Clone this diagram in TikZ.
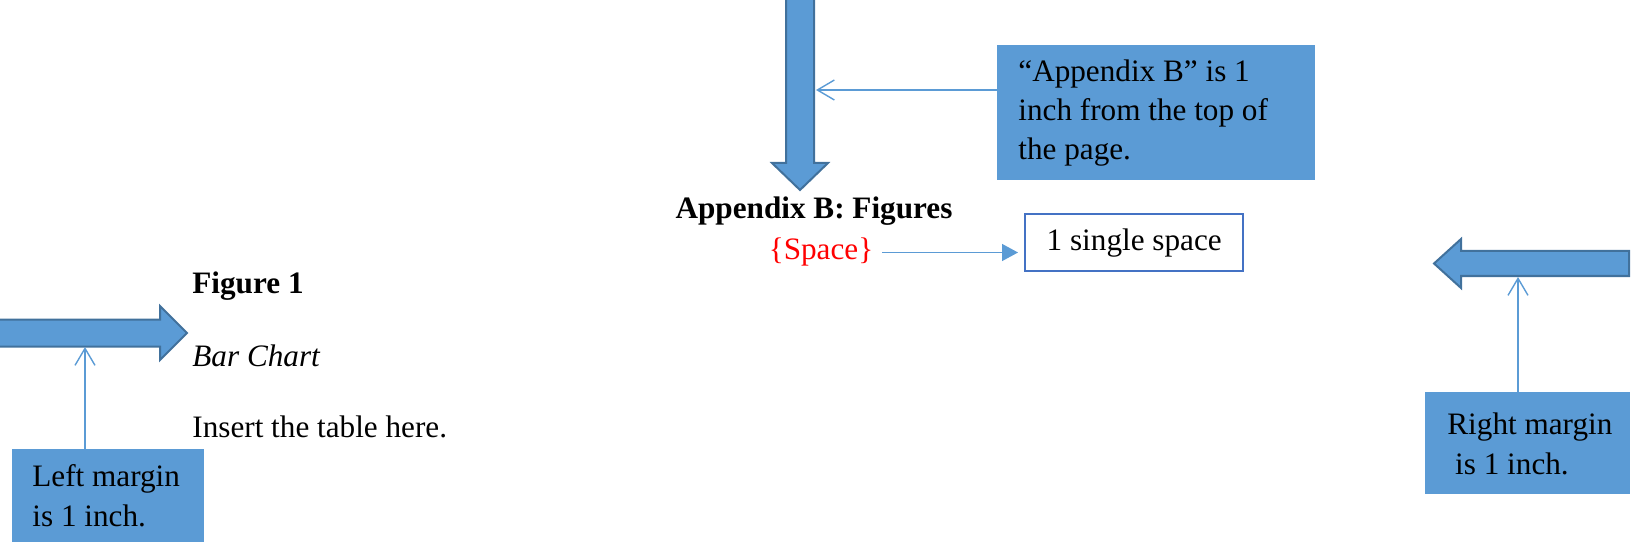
\documentclass[tikz,border=0pt]{standalone}
\usepackage{fontspec}
\setmainfont{Liberation Serif}
\usetikzlibrary{positioning}
\usetikzlibrary{arrows, arrows.meta}
\definecolor{blockblue}{HTML}{5B9BD5}
\definecolor{blockedge}{HTML}{41719C}
\definecolor{boxedge}{HTML}{4472C4}
\tikzset{myblock/.style={fill=blockblue, draw=blockedge, line width=1pt}}
\tikzset{mypointer/.style={draw=blockblue, line width=0.7pt, -{Straight Barb[length=8.5pt, width=10pt]}}}
\tikzset{myspacearrow/.style={draw=blockblue, line width=0.7pt, -{Triangle[length=8pt, width=8.5pt]}}}
\tikzset{schrift/.style={font=\fontsize{15.6}{18.5}\selectfont}}
\tikzset{mynote/.style={schrift, fill=blockblue, inner ysep=0pt, align=flush left, anchor=north west}}

\begin{document}
\begin{tikzpicture}[x=0.5pt, y=-0.5pt]
		\useasboundingbox (0,0) rectangle (1632,545);
		
		% UEBERSCHRIFT
		\draw[myblock] (786,-5) -- (786,163) -- (772,163) -- (800,190) -- (828,163) -- (814,163) -- (814,-5) -- cycle;
		\coordinate (downR) at (816,90);
		\node[mynote, font=\fontsize{15.6}{19.5}\selectfont, inner xsep=10.5pt, text width=138pt, minimum width=159pt, minimum height=67.5pt] (topnote) at (997,45) {\mbox{“Appendix B” is 1}\\\mbox{inch from the top of}\\the page.};
		\draw[mypointer] (topnote.west |- downR) -- (downR);
		
		\node[schrift, anchor=base] (title) at (814,219) {\textbf{Appendix B: Figures}};
		\node[schrift, anchor=base, text=red] (spc) at (821,260) {\{Space\}};
		\node[schrift, draw=boxedge, line width=1.2pt, minimum width=109pt, minimum height=28.5pt, anchor=north west] (single) at (1024,213) {1 single space};
		\draw[myspacearrow, shorten <=1pt, shorten >=3pt] (spc.east) -- (spc.east -| single.west);
		
		% RECHTER RAND
		\draw[myblock] (1629,251) -- (1461,251) -- (1461,239) -- (1434,263.5) -- (1461,288) -- (1461,276) -- (1629,276) -- cycle;
		\coordinate (rightR) at (1518,277);
		\node[mynote, font=\fontsize{15.6}{20}\selectfont, inner xsep=11pt, text width=80.5pt, minimum width=102.5pt, minimum height=51pt] (rightnote) at (1425,392) {\mbox{Right margin}\\\mbox{\ is 1 inch.}};
		\draw[mypointer] (rightR |- rightnote.north) -- (rightR);
		
		% LINKER RAND
		\draw[myblock] (-5,319.5) -- (160,319.5) -- (160,306) -- (187,333) -- (160,360) -- (160,346.5) -- (-5,346.5) -- cycle;
		\coordinate (leftR) at (85,347);
		\node[mynote, font=\fontsize{15.6}{20}\selectfont, inner xsep=10pt, text width=76pt, minimum width=96pt, minimum height=46.5pt] (leftnote) at (12,449) {\mbox{Left margin}\\is 1 inch.};
		\draw[mypointer] (leftR |- leftnote.north) -- (leftR);
		
		\node[schrift, anchor=base west, inner sep=0pt] (fig1) at (192,293) {\textbf{Figure 1}};
		\node[schrift, anchor=base west, inner sep=0pt] (barchart) at (192,366) {\textit{Bar Chart}};
		\node[schrift, anchor=base west, inner sep=0pt] (insert) at (192,437) {Insert the table here.};
		
	\end{tikzpicture}
\end{document}
